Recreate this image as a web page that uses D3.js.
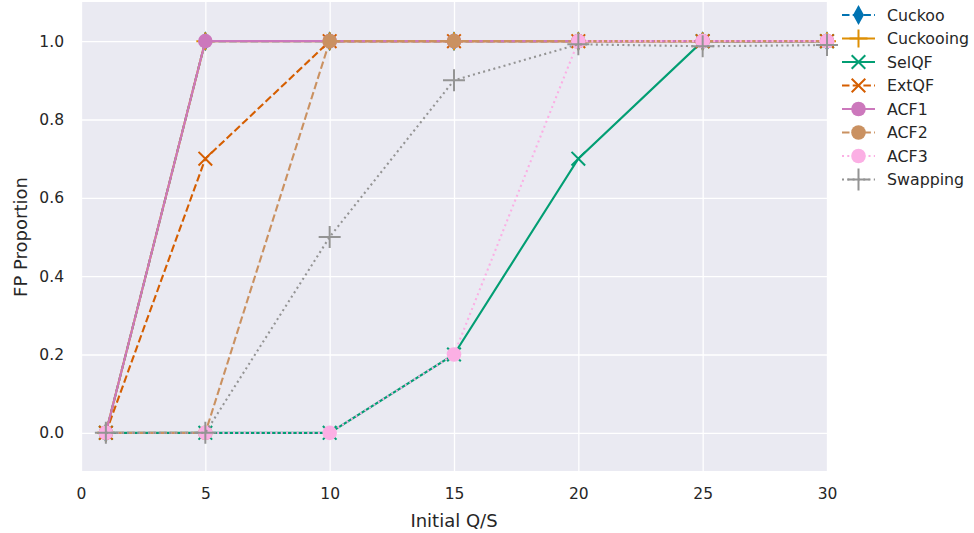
<!DOCTYPE html>
<html>
<head>
<meta charset="utf-8">
<script src="https://cdn.jsdelivr.net/npm/d3@7"></script>
<style>
body { margin: 0; background: #fff; }
svg { font-family: "DejaVu Sans", sans-serif; }
</style>
</head>
<body>
<svg width="974" height="533"></svg>
<script>
// x values shared by all series
var qs = [1, 5, 10, 15, 20, 25, 30];

var cuckoo    = [0, 1, 1, 1, 1, 1, 1];
var cuckooing = [0, 1, 1, 1, 1, 1, 1];
var selqf     = [0, 0, 0, 0.2, 0.7, 1, 1];
var extqf     = [0, 0.7, 1, 1, 1, 1, 1];
var acf1      = [0, 1, 1, 1, 1, 1, 1];
var acf2      = [0, 0, 1, 1, 1, 1, 1];
var acf3      = [0, 0, 0, 0.2, 1, 1, 1];
var swapping  = [0, 0, 0.5, 0.9, 0.992, 0.987, 0.99];

var xTicks = [0, 5, 10, 15, 20, 25, 30];
var yTicks = [0, 0.2, 0.4, 0.6, 0.8, 1.0];

var series = [
  {name: "Cuckoo",    values: cuckoo,    color: "#0173b2", dash: "7.5,3.2", marker: "diamond"},
  {name: "Cuckooing", values: cuckooing, color: "#de8f05", dash: null,      marker: "plus", size: 18},
  {name: "SelQF",     values: selqf,     color: "#029e73", dash: null,      marker: "x"},
  {name: "ExtQF",     values: extqf,     color: "#d55e00", dash: "7.5,3.2", marker: "x"},
  {name: "ACF1",      values: acf1,      color: "#cc78bc", dash: null,      marker: "circle"},
  {name: "ACF2",      values: acf2,      color: "#ca9161", dash: "7.5,3.2", marker: "circle"},
  {name: "ACF3",      values: acf3,      color: "#fbafe4", dash: "2,3.3",   marker: "circle"},
  {name: "Swapping",  values: swapping,  color: "#949494", dash: "2,3.3",   marker: "plus", size: 22}
];

var svg = d3.select("svg");
var pLeft = 81, pRight = 827, pTop = 2, pBottom = 472;

var x = d3.scaleLinear().domain([0, 30]).range([pLeft, pRight]);
var y = d3.scaleLinear().domain([-0.1, 1.1]).range([pBottom, pTop]);

// plot background
svg.append("rect")
  .attr("x", pLeft).attr("y", pTop)
  .attr("width", pRight - pLeft).attr("height", pBottom - pTop - 1)
  .attr("fill", "#eaeaf2");

// grid lines
svg.append("g")
  .attr("transform", "translate(0," + (pBottom - 1) + ")")
  .call(d3.axisBottom(x).tickValues(xTicks).tickSize(-(pBottom - pTop - 1)).tickFormat(""))
  .call(function(g) { g.select(".domain").remove(); })
  .selectAll("line").attr("stroke", "#fff").attr("stroke-width", 1.3);

svg.append("g")
  .attr("transform", "translate(" + pLeft + ",0)")
  .call(d3.axisLeft(y).tickValues(yTicks).tickSize(-(pRight - pLeft)).tickFormat(""))
  .call(function(g) { g.select(".domain").remove(); })
  .selectAll("line").attr("stroke", "#fff").attr("stroke-width", 1.3);

// tick labels
var xAxis = svg.append("g")
  .attr("transform", "translate(0," + (pBottom - 1) + ")")
  .call(d3.axisBottom(x).tickValues(xTicks).tickSize(0).tickPadding(17).tickFormat(d3.format("d")));
xAxis.select(".domain").remove();
xAxis.selectAll("text").attr("font-size", "15.5px").attr("fill", "#262626").attr("font-family", "DejaVu Sans");

var yAxis = svg.append("g")
  .attr("transform", "translate(" + pLeft + ",0)")
  .call(d3.axisLeft(y).tickValues(yTicks).tickSize(0).tickPadding(17).tickFormat(d3.format(".1f")));
yAxis.select(".domain").remove();
yAxis.selectAll("text").attr("font-size", "15.5px").attr("fill", "#262626").attr("font-family", "DejaVu Sans");

// axis labels
svg.append("text")
  .attr("x", (pLeft + pRight) / 2).attr("y", 527)
  .attr("text-anchor", "middle")
  .attr("font-size", "18px").attr("fill", "#262626")
  .text("Initial Q/S");

svg.append("text")
  .attr("transform", "translate(26.5," + (pTop + pBottom) / 2 + ") rotate(-90)")
  .attr("text-anchor", "middle")
  .attr("font-size", "18px").attr("fill", "#262626")
  .text("FP Proportion");

function drawMarker(g, s, cx, cy) {
  if (s.marker == "circle") {
    g.append("circle").attr("cx", cx).attr("cy", cy).attr("r", 7.3).attr("fill", s.color);
  } else if (s.marker == "diamond") {
    g.append("path")
      .attr("d", "M" + cx + "," + (cy - 10) + "L" + (cx + 5.5) + "," + cy + "L" + cx + "," + (cy + 10) + "L" + (cx - 5.5) + "," + cy + "Z")
      .attr("fill", s.color);
  } else if (s.marker == "plus") {
    var h = s.size / 2;
    g.append("path")
      .attr("d", "M" + (cx - h) + "," + cy + "H" + (cx + h) + "M" + cx + "," + (cy - h) + "V" + (cy + h))
      .attr("stroke", s.color).attr("stroke-width", 2).attr("fill", "none");
  } else if (s.marker == "x") {
    var k = 6.8;
    g.append("path")
      .attr("d", "M" + (cx - k) + "," + (cy - k) + "L" + (cx + k) + "," + (cy + k) + "M" + (cx - k) + "," + (cy + k) + "L" + (cx + k) + "," + (cy - k))
      .attr("stroke", s.color).attr("stroke-width", 2).attr("fill", "none");
  }
}

var line = d3.line()
  .x(function(d) { return x(d[0]); })
  .y(function(d) { return y(d[1]); });

var plot = svg.append("g");
series.forEach(function(s) {
  var pts = qs.map(function(q, i) { return [q, s.values[i]]; });
  var g = plot.append("g");
  g.append("path")
    .attr("d", line(pts))
    .attr("fill", "none")
    .attr("stroke", s.color)
    .attr("stroke-width", 2.1)
    .attr("stroke-dasharray", s.dash);
  pts.forEach(function(p) { drawMarker(g, s, x(p[0]), y(p[1])); });
});

// legend
var legend = svg.append("g");
series.forEach(function(s, i) {
  var ly = 15 + i * 23.5;
  var g = legend.append("g");
  g.append("line")
    .attr("x1", 842).attr("x2", 875).attr("y1", ly).attr("y2", ly)
    .attr("stroke", s.color).attr("stroke-width", 2.1)
    .attr("stroke-dasharray", s.dash);
  drawMarker(g, s, 858.5, ly);
  g.append("text")
    .attr("x", 887).attr("y", ly).attr("dy", "0.35em")
    .attr("font-size", "15.8px").attr("fill", "#262626")
    .text(s.name);
});
</script>
</body>
</html>
